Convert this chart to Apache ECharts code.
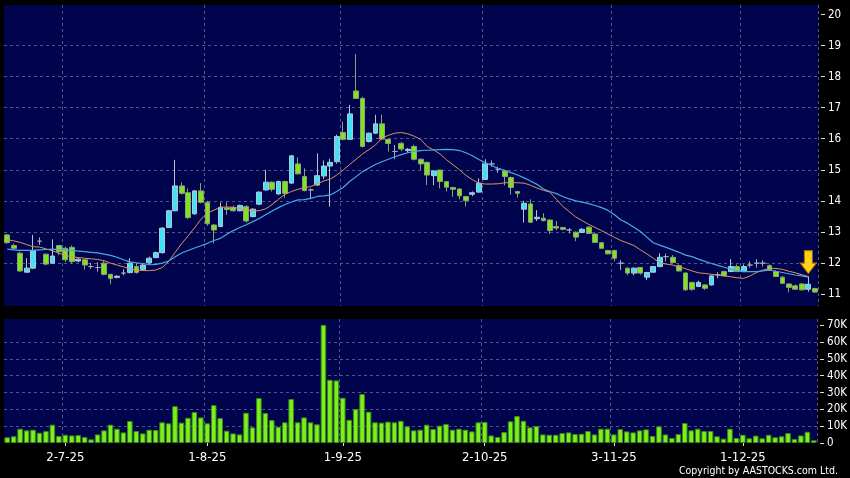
<!DOCTYPE html>
<html><head><meta charset="utf-8">
<script src="https://cdn.jsdelivr.net/npm/echarts@6/dist/echarts.min.js"></script>
<style>html,body{margin:0;padding:0;background:#000;}#c{width:850px;height:478px;}</style>
</head><body><div id="c"></div>
<script>
// trading days (d-m-yy)
const dates = [
 '18-6-25','19-6-25','20-6-25','23-6-25','24-6-25','25-6-25','26-6-25','27-6-25','30-6-25',
 '2-7-25','3-7-25','4-7-25','7-7-25','8-7-25','9-7-25','10-7-25','11-7-25','14-7-25','15-7-25','16-7-25','17-7-25','18-7-25','21-7-25','22-7-25','23-7-25','24-7-25','25-7-25','28-7-25','29-7-25','30-7-25','31-7-25',
 '1-8-25','4-8-25','5-8-25','6-8-25','7-8-25','8-8-25','11-8-25','12-8-25','13-8-25','14-8-25','15-8-25','18-8-25','19-8-25','20-8-25','21-8-25','22-8-25','25-8-25','26-8-25','27-8-25','28-8-25','29-8-25',
 '1-9-25','2-9-25','3-9-25','4-9-25','5-9-25','8-9-25','9-9-25','10-9-25','11-9-25','12-9-25','15-9-25','16-9-25','17-9-25','18-9-25','19-9-25','22-9-25','23-9-25','24-9-25','25-9-25','26-9-25','29-9-25','30-9-25',
 '2-10-25','3-10-25','6-10-25','8-10-25','9-10-25','10-10-25','13-10-25','14-10-25','15-10-25','16-10-25','17-10-25','20-10-25','21-10-25','22-10-25','23-10-25','24-10-25','27-10-25','28-10-25','30-10-25','31-10-25',
 '3-11-25','4-11-25','5-11-25','6-11-25','7-11-25','10-11-25','11-11-25','12-11-25','13-11-25','14-11-25','17-11-25','18-11-25','19-11-25','20-11-25','21-11-25','24-11-25','25-11-25','26-11-25','27-11-25','28-11-25',
 '1-12-25','2-12-25','3-12-25','4-12-25','5-12-25','8-12-25','9-12-25','10-12-25','11-12-25','12-12-25','15-12-25','16-12-25'
];
const tickLabels = ['2-7-25','1-8-25','1-9-25','2-10-25','3-11-25','1-12-25'];
const priceTicks = [11,12,13,14,15,16,17,18,19,20];
const volumeTicks = [0,10,20,30,40,50,60,70];

const opens = [12.90,12.56,12.31,11.70,11.83,12.70,12.28,11.99,12.56,12.47,12.50,12.06,12.10,11.88,11.85,11.99,11.63,11.53,11.67,11.69,11.88,11.79,12.00,12.17,12.33,13.14,13.68,14.48,14.26,13.58,14.32,13.95,13.22,13.17,13.77,13.78,13.68,13.81,13.49,13.89,14.35,14.60,14.22,14.62,14.57,15.19,14.78,14.35,14.51,14.80,15.12,15.26,16.20,15.98,17.54,17.30,15.91,16.18,16.48,15.98,15.59,15.85,15.62,15.75,15.34,15.24,14.81,14.99,14.62,14.43,14.38,14.14,14.21,14.28,14.69,15.19,15.02,14.96,14.75,14.30,13.73,13.90,13.42,13.44,13.38,13.17,13.14,13.06,12.99,12.98,13.15,12.93,12.65,12.40,12.40,11.99,11.83,11.67,11.85,11.54,11.70,11.88,12.20,12.18,11.91,11.67,11.37,11.24,11.29,11.29,11.61,11.72,11.72,11.88,11.72,11.93,11.99,11.99,11.91,11.72,11.54,11.32,11.26,11.32,11.15,11.17];
const closes = [12.65,12.47,11.74,11.83,12.40,12.70,11.96,12.22,12.36,12.10,12.04,12.12,11.93,11.88,11.85,11.63,11.50,11.57,11.67,11.99,11.69,11.93,12.15,12.33,13.12,13.68,14.48,14.24,13.46,14.32,13.95,13.26,13.06,13.79,13.72,13.68,13.85,13.35,13.73,14.28,14.60,14.37,14.62,14.24,15.45,14.87,14.33,14.35,14.81,15.12,15.24,16.07,15.98,16.80,17.30,15.75,16.18,16.48,15.99,15.85,15.59,15.67,15.66,15.34,15.19,14.83,14.96,14.62,14.44,14.37,14.16,14.01,14.26,14.57,15.19,15.19,15.02,14.78,14.43,14.24,13.92,13.31,13.47,13.36,13.04,13.12,13.08,13.06,12.83,13.08,12.95,12.66,12.47,12.29,12.15,11.99,11.67,11.83,11.67,11.69,11.88,12.18,12.20,12.01,11.74,11.13,11.15,11.37,11.18,11.58,11.61,11.58,11.88,11.72,11.88,11.93,11.99,11.99,11.77,11.56,11.34,11.21,11.15,11.13,11.31,11.06];
const lows = [12.62,12.44,11.70,11.68,11.80,12.58,11.92,11.97,12.25,12.03,11.98,12.02,11.78,11.80,11.72,11.60,11.31,11.50,11.60,11.66,11.65,11.77,11.98,12.15,12.30,13.12,13.66,14.20,13.41,13.55,13.92,13.20,12.63,13.15,13.55,13.65,13.66,13.30,13.47,13.86,14.33,14.30,14.20,14.10,14.55,14.85,14.30,14.05,14.48,14.70,13.81,15.20,15.95,15.96,17.28,15.72,15.88,16.15,15.95,15.59,15.34,15.60,15.55,15.30,15.00,14.51,14.50,14.40,14.30,14.13,14.05,13.82,14.15,14.26,14.67,15.10,14.90,14.50,14.20,14.10,13.30,13.28,13.35,13.34,12.93,13.05,13.05,12.95,12.70,12.96,12.93,12.64,12.45,12.27,12.05,11.77,11.60,11.60,11.62,11.45,11.68,11.86,12.05,11.99,11.72,11.10,11.10,11.22,11.13,11.27,11.50,11.56,11.70,11.70,11.70,11.85,11.85,11.88,11.75,11.54,11.32,11.05,11.13,11.11,11.07,11.03];
const highs = [12.93,12.62,12.36,12.15,12.90,12.82,12.30,12.76,12.58,12.52,12.56,12.15,12.12,12.00,12.02,12.05,11.65,11.60,11.80,12.15,12.00,11.96,12.20,12.36,13.15,13.70,15.32,14.59,14.40,14.35,14.57,14.00,13.25,13.95,13.95,13.85,13.88,13.86,13.76,14.30,15.00,14.63,14.65,14.65,15.48,15.40,15.05,14.40,15.53,15.30,15.35,16.13,16.55,17.09,18.73,17.35,16.20,16.77,16.77,16.00,15.80,15.90,15.70,15.80,15.36,15.26,14.98,15.00,14.64,14.45,14.40,14.16,14.30,14.72,15.34,15.30,15.10,15.00,14.78,14.32,14.00,14.05,13.70,13.60,13.40,13.35,13.16,13.12,13.01,13.12,13.18,12.95,12.67,12.42,12.42,12.09,11.86,11.85,11.87,11.71,11.90,12.31,12.30,12.25,11.95,11.70,11.39,11.42,11.31,11.60,11.70,11.75,12.12,11.95,11.95,12.05,12.12,12.08,11.95,11.76,11.58,11.34,11.30,11.35,11.57,11.20];
// volume in thousands of shares
const volumeK = [3.4,4.0,8.5,7.5,7.9,6.1,7.1,10.9,4.2,4.9,4.5,4.7,3.6,2.2,5.1,7.5,10.9,8.5,6.3,13.1,7.1,5.7,7.9,7.7,12.3,11.7,21.9,12.1,15.0,18.4,15.2,11.7,22.5,14.8,7.3,5.7,5.1,18.0,9.3,26.7,17.8,13.6,9.7,12.3,26.1,12.3,15.2,12.3,11.1,70.2,37.6,37.2,26.9,13.8,20.2,29.1,18.6,12.3,12.1,12.7,12.3,13.2,9.9,7.5,7.9,
 10.9,8.3,10.3,11.3,7.9,8.5,7.9,6.9,12.3,12.5,4.5,3.6,6.5,12.9,16.0,13.2,9.3,10.1,5.1,4.9,4.9,5.9,6.3,5.3,5.5,7.1,5.1,8.5,8.5,5.1,8.3,6.9,6.3,7.5,8.1,4.2,9.9,5.1,3.0,5.3,11.9,7.5,8.5,7.1,7.1,4.0,2.6,8.5,3.0,4.9,2.8,4.4,2.8,4.9,3.4,4.0,5.9,2.4,4.5,6.7,1.6];
// moving averages
const maShort = [12.75,12.71,12.66,12.59,12.52,12.51,12.45,12.39,12.31,12.24,12.20,12.17,12.15,12.13,12.11,12.07,11.99,11.93,11.87,11.80,11.77,11.75,11.75,11.77,11.85,12.05,12.34,12.62,12.87,13.13,13.41,13.60,13.70,13.79,13.80,13.79,13.75,13.70,13.68,13.68,13.74,13.88,14.05,14.21,14.30,14.37,14.42,14.46,14.55,14.64,14.70,14.83,14.99,15.17,15.34,15.51,15.65,15.80,16.02,16.11,16.18,16.20,16.16,16.08,15.98,15.75,15.64,15.51,15.32,15.16,15.00,14.82,14.68,14.57,14.54,14.54,14.55,14.58,14.59,14.58,14.57,14.50,14.41,14.34,14.28,14.05,13.82,13.65,13.48,13.36,13.24,13.14,13.04,12.93,12.82,12.72,12.64,12.56,12.42,12.29,12.15,12.00,11.96,11.93,11.87,11.81,11.74,11.68,11.66,11.63,11.61,11.58,11.55,11.52,11.50,11.58,11.69,11.77,11.82,11.82,11.79,11.73,11.68,11.62,11.56,null];
const maLong = [12.44,12.42,12.40,12.40,12.40,12.42,12.43,12.44,12.43,12.42,12.40,12.38,12.36,12.34,12.32,12.28,12.24,12.18,12.10,12.03,12.00,11.98,11.94,11.95,11.99,12.06,12.20,12.32,12.40,12.48,12.55,12.63,12.72,12.79,12.92,13.04,13.14,13.23,13.33,13.43,13.55,13.67,13.78,13.88,13.96,14.03,14.04,14.08,14.14,14.16,14.19,14.30,14.43,14.62,14.78,14.94,15.06,15.17,15.26,15.34,15.42,15.49,15.55,15.59,15.62,15.63,15.64,15.65,15.66,15.65,15.62,15.55,15.45,15.33,15.23,15.14,15.04,14.98,14.91,14.83,14.74,14.64,14.53,14.38,14.30,14.23,14.14,14.06,14.00,13.96,13.91,13.85,13.78,13.69,13.55,13.38,13.28,13.15,13.01,12.83,12.65,12.57,12.50,12.42,12.34,12.25,12.20,12.12,12.05,11.98,11.92,11.86,11.80,11.75,11.72,11.72,11.72,11.74,11.77,11.73,11.69,11.65,11.61,11.58,11.54,null];

const NAVY = '#00044c';
const GRID = '#53538a';
const FONT = '"DejaVu Sans Condensed","DejaVu Sans",sans-serif';
const isLabelDay = (idx, val) => tickLabels.indexOf(val) >= 0;

const candleData = dates.map((d, i) => {
  const item = { value: [opens[i], closes[i], lows[i], highs[i]] };
  if (opens[i] === closes[i]) {
    item.itemStyle = { color: '#a8a8b8', color0: '#a8a8b8', borderColor: '#a8a8b8', borderColor0: '#a8a8b8' };
  }
  return item;
});
const arrowIdx = dates.length - 2;

const chart = echarts.init(document.getElementById('c'), null, { renderer: 'canvas' });
chart.setOption({
  backgroundColor: '#000',
  animation: false,
  grid: [
    { left: 4, right: 32, top: 5, height: 301, show: true, backgroundColor: NAVY, borderWidth: 0 },
    { left: 4, right: 32, top: 319, height: 124, show: true, backgroundColor: NAVY, borderWidth: 0 }
  ],
  xAxis: [
    { type: 'category', gridIndex: 0, data: dates, boundaryGap: true,
      axisLine: { show: false }, axisTick: { show: false }, axisLabel: { show: false },
      splitLine: { show: true, interval: isLabelDay, lineStyle: { color: GRID, type: [3, 3], width: 1 } } },
    { type: 'category', gridIndex: 1, data: dates, boundaryGap: true,
      axisLine: { show: false },
      axisTick: { show: true, alignWithLabel: true, interval: isLabelDay, length: 3, lineStyle: { color: '#ddd' } },
      axisLabel: { interval: isLabelDay, color: '#fff', fontSize: 13, fontFamily: FONT, margin: 8 },
      splitLine: { show: true, interval: isLabelDay, lineStyle: { color: GRID, type: [3, 3], width: 1 } } }
  ],
  yAxis: [
    { type: 'value', gridIndex: 0, position: 'right', min: 10.61, max: 20.31, splitNumber: 9, offset: 3, scale: true,
      axisLine: { show: false },
      axisTick: { show: true, length: 4, customValues: priceTicks, lineStyle: { color: '#ddd' } },
      axisLabel: { color: '#fff', fontSize: 11.5, fontFamily: FONT, margin: 7, customValues: priceTicks },
      splitLine: { show: true, showMinLine: false, showMaxLine: false, lineStyle: { color: GRID, type: [3, 3], width: 1 } } },
    { type: 'value', gridIndex: 1, position: 'right', min: 0, max: 73.7, interval: 10, offset: 3,
      axisLine: { show: false },
      axisTick: { show: true, length: 4, customValues: volumeTicks, lineStyle: { color: '#ddd' } },
      axisLabel: { color: '#fff', fontSize: 11.5, fontFamily: FONT, margin: 7, customValues: volumeTicks,
        formatter: v => v === 0 ? '0' : v + 'K' },
      splitLine: { show: true, showMinLine: false, showMaxLine: false, lineStyle: { color: GRID, type: [3, 3], width: 1 } } }
  ],
  series: [
    { type: 'candlestick', xAxisIndex: 0, yAxisIndex: 0, data: candleData, barWidth: '82%',
      itemStyle: { color: '#3ee4f4', color0: '#7ee41e', borderColor: '#b8c4d4', borderColor0: '#8ea07a', borderWidth: 1 } },
    { type: 'line', xAxisIndex: 0, yAxisIndex: 0, data: maShort, symbol: 'none',
      lineStyle: { color: '#e0925e', width: 1 } },
    { type: 'line', xAxisIndex: 0, yAxisIndex: 0, data: maLong, symbol: 'none',
      lineStyle: { color: '#4aa8e8', width: 1.2 },
      markPoint: { data: [ { coord: [dates[arrowIdx], maLong[arrowIdx]],
          symbol: 'path://M4,0 L12,0 L12,13 L16,13 L8,24 L0,13 L4,13 Z', symbolSize: [16, 23], symbolOffset: [0, -15],
          itemStyle: { color: '#ffd21a', borderColor: '#a87400', borderWidth: 1 }, label: { show: false } } ] } },
    { type: 'bar', xAxisIndex: 1, yAxisIndex: 1, data: volumeK, barWidth: '86%',
      itemStyle: { color: '#7cf01e', borderColor: '#3d8a12', borderWidth: 1 } }
  ],
  graphic: [
    { type: 'text', x: 838, y: 471, style: { text: 'Copyright by AASTOCKS.com Ltd.', fill: '#fff', font: '10.5px ' + FONT, textAlign: 'right', textVerticalAlign: 'middle' } }
  ]
});
</script></body></html>
